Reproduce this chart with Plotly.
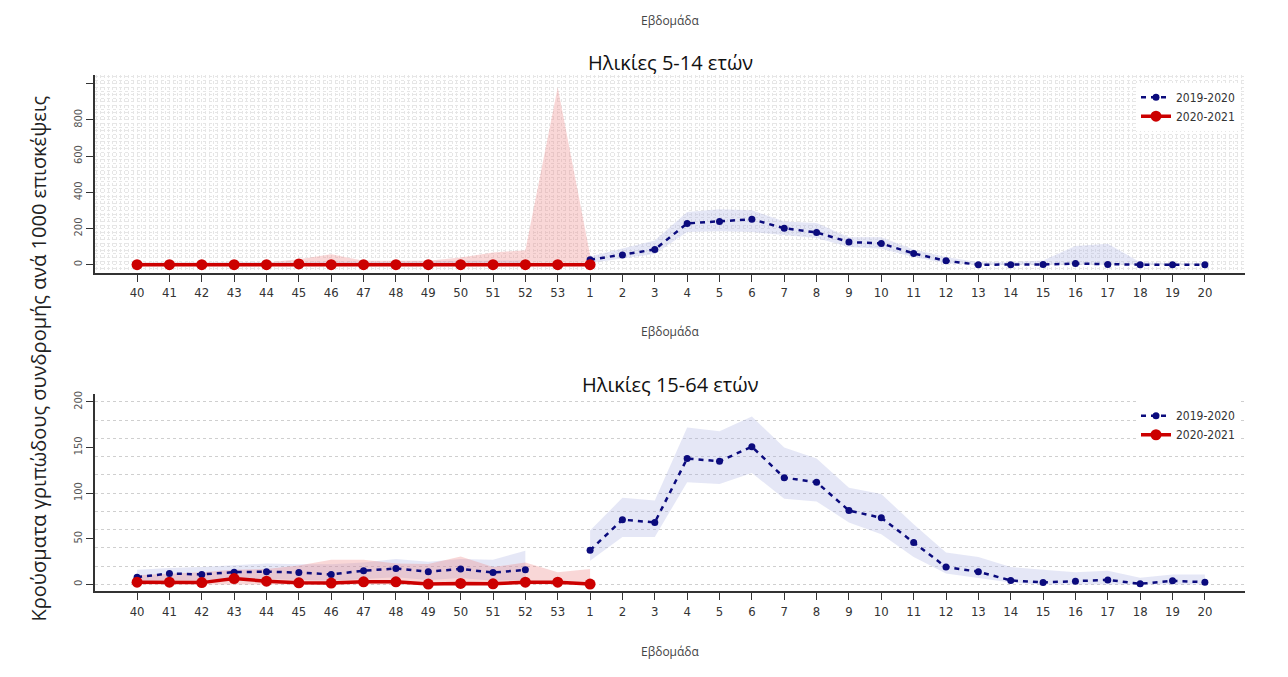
import plotly.graph_objects as go

# ---------------- data ----------------
weeks = ["40", "41", "42", "43", "44", "45", "46", "47", "48", "49", "50", "51", "52", "53",
         "1", "2", "3", "4", "5", "6", "7", "8", "9", "10", "11", "12", "13", "14", "15", "16",
         "17", "18", "19", "20"]

# Ages 5-14
a_2019 = [2, 2, 4, 4, 2, 3, 3, 2, 3, 4, 4, 4, 4, None,
          28, 55, 85, 229, 240, 252, 202, 179, 126, 118, 63, 22, 1, 1, 2, 7, 2, 1, 1, 1]
a_2019_hi = [12, 12, 14, 14, 13, 15, 18, 15, 16, 20, 22, 22, 24, None,
             46, 89, 135, 292, 307, 301, 240, 231, 153, 153, 85, 43, 15, 15, 24, 104, 116, 15, 9, 9]
a_2019_lo = [0, 0, 0, 0, 0, 0, 0, 0, 0, 0, 0, 0, 0, None,
             10, 35, 60, 181, 185, 181, 163, 148, 98, 89, 43, 9, 0, 0, 0, 0, 0, 0, 0, 0]
a_2020 = [1, 1, 1, 1, 1, 5, 1, 1, 1, 1, 1, 1, 1, 1, 1]
a_2020_hi = [13, 13, 13, 13, 13, 31, 59, 22, 22, 22, 40, 68, 81, 981, 55]
a_2020_lo = [0, 0, 0, 0, 0, 0, 0, 0, 0, 0, 0, 0, 0, 0, 0]

# Ages 15-64
b_2019 = [8, 12, 11, 13.5, 14, 13, 11, 15, 17.5, 14, 17, 13, 16, None,
          37.5, 71, 68, 138, 135, 151, 117, 112, 81, 73, 46, 19, 14, 4.4, 2.2, 3.6, 5, 0.7, 4, 2.5]
b_2019_hi = [16, 18, 19, 21, 23, 22, 22, 24, 28, 25, 28, 27, 37, None,
             59, 95, 92, 172, 168, 184, 150, 138, 106, 99, 66, 35, 30, 19, 16, 13.5, 15, 7.3, 11, 11]
b_2019_lo = [3, 5, 4, 6, 6, 5, 4, 6, 8, 5, 7, 4, 5, None,
             26, 52, 52, 112, 110, 122, 94, 91, 68, 55, 30, 12, 7, 2, 0, 0, 0, 0, 0, 0]
b_2020 = [2.5, 2.5, 2, 6.5, 3.6, 1.8, 1.5, 2.9, 2.9, 0.4, 1.1, 0.7, 2.5, 2.5, 0.4]
b_2020_hi = [10, 11.6, 13.5, 16, 17, 20.7, 27, 27, 23, 22.5, 30.5, 19, 24, 13.5, 17]
b_2020_lo = [0, 0, 0, 0, 0, 0, 0, 0, 0, 0, 0, 0, 0, 0, 0]

series_names = ["2019-2020", "2020-2021"]
titles = ["Ηλικίες 5-14 ετών", "Ηλικίες 15-64 ετών"]
x_title = "Εβδομάδα"
y_title = "Κρούσματα γριπώδους συνδρομής ανά 1000 επισκέψεις"
top_ticks = [0, 200, 400, 600, 800, 1000]
top_ticktext = ["0", "200", "400", "600", "800", ""]
bot_ticks = [0, 50, 100, 150, 200]

# ---------------- styling ----------------
BLUE = "#0b0b7d"
RED = "#cc0000"
BLUE_BAND = "rgba(170,175,225,0.30)"
RED_BAND = "rgba(235,130,130,0.32)"
NARROW = "DejaVu Sans Condensed, Liberation Sans Narrow, sans-serif"
TICK_FONT = dict(family=NARROW, size=13, color="#333333")
pos = list(range(len(weeks)))

# page body has an 8px margin: work in reference pixel coords, shifted
OFF = 8
W = 1280.0
H = 669.0


def px(v):
    return (v - OFF) / W


def py(v):
    return 1 - (v - OFF) / H


fig = go.Figure()


def segments(vals):
    segs, cur = [], []
    for i, v in enumerate(vals):
        if v is None:
            if cur:
                segs.append(cur)
            cur = []
        else:
            cur.append(i)
    if cur:
        segs.append(cur)
    return segs


def add_band(lo, hi, color, xa, ya):
    for seg in segments(hi):
        xs = [pos[i] for i in seg] + [pos[i] for i in reversed(seg)]
        ys = [hi[i] for i in seg] + [lo[i] for i in reversed(seg)]
        fig.add_trace(go.Scatter(x=xs, y=ys, fill="toself", fillcolor=color, mode="lines",
                                 line=dict(width=0), hoverinfo="skip", showlegend=False,
                                 xaxis=xa, yaxis=ya))


panels = [
    (a_2019, a_2019_lo, a_2019_hi, a_2020, a_2020_lo, a_2020_hi, "x", "y", "legend"),
    (b_2019, b_2019_lo, b_2019_hi, b_2020, b_2020_lo, b_2020_hi, "x2", "y2", "legend2"),
]
for s19, lo19, hi19, s20, lo20, hi20, xa, ya, lg in panels:
    add_band(lo19, hi19, BLUE_BAND, xa, ya)
    add_band(lo20, hi20, RED_BAND, xa, ya)
    fig.add_trace(go.Scatter(x=pos, y=s19, mode="lines+markers", name=series_names[0],
                             line=dict(color=BLUE, width=2.5, dash="5px,5px"),
                             marker=dict(color=BLUE, size=7), connectgaps=False,
                             xaxis=xa, yaxis=ya, legend=lg))
    fig.add_trace(go.Scatter(x=pos[:len(s20)], y=s20, mode="lines+markers", name=series_names[1],
                             line=dict(color=RED, width=3.5),
                             marker=dict(color=RED, size=11),
                             xaxis=xa, yaxis=ya, legend=lg))

xr = [-1.3, 34.24]
xcommon = dict(range=xr, tickmode="array", tickvals=pos, ticktext=weeks, ticks="outside",
               ticklen=7, tickcolor="#333333", showline=True, linecolor="#333333", linewidth=1.5,
               tickfont=TICK_FONT, zeroline=False, domain=[px(95), px(1245)])
ycommon = dict(ticks="outside", ticklen=7, tickcolor="#333333", showline=True, linecolor="#333333",
               linewidth=1.5, tickangle=-90, zeroline=False,
               tickfont=dict(family=NARROW, size=11, color="#555555"))

GRID = "#e6e6e6"
fig.update_layout(
    width=int(W), height=int(H),
    margin=dict(l=0, r=0, t=0, b=0),
    paper_bgcolor="white", plot_bgcolor="white",
    xaxis=dict(anchor="y", showgrid=True, gridcolor=GRID, griddash="dot",
               minor=dict(tickmode="linear", tick0=0, dtick=0.125, showgrid=True,
                          gridcolor=GRID, griddash="dot", gridwidth=1),
               **xcommon),
    yaxis=dict(domain=[py(271), py(72)], anchor="x", range=[-44, 1050],
               tickmode="array", tickvals=top_ticks, ticktext=top_ticktext,
               showgrid=True, gridcolor=GRID, griddash="dot",
               minor=dict(tickmode="linear", tick0=0, dtick=20, showgrid=True,
                          gridcolor=GRID, griddash="dot", gridwidth=1),
               **ycommon),
    xaxis2=dict(anchor="y2", showgrid=False, **xcommon),
    yaxis2=dict(domain=[py(591), py(393)], anchor="x2", range=[-7.6, 208.4],
                tickmode="array", tickvals=bot_ticks,
                showgrid=False,
                minor=dict(tickmode="linear", tick0=0, dtick=20, showgrid=True,
                           gridcolor="#cfcfcf", griddash="dot", gridwidth=1),
                **ycommon),
    legend=dict(x=px(1240), y=py(80), xanchor="right", yanchor="top", xref="paper", yref="paper",
                bgcolor="white", font=dict(family=NARROW, size=12, color="#333333"),
                itemwidth=30, tracegroupgap=0),
    legend2=dict(x=px(1240), y=py(400), xanchor="right", yanchor="top", xref="paper", yref="paper",
                 bgcolor="white", font=dict(family=NARROW, size=12, color="#333333"),
                 itemwidth=30, tracegroupgap=0),
)

cx = px((95 + 1245) / 2)
ann_font = dict(family="Open Sans, sans-serif", size=12, color="#444444")
for yy in [18, 330, 651]:
    fig.add_annotation(text=x_title, x=cx, y=py(yy), xref="paper", yref="paper",
                       showarrow=False, font=ann_font, xanchor="center", yanchor="middle")
for t, yy in zip(titles, [60, 383]):
    fig.add_annotation(text=t, x=cx, y=py(yy), xref="paper", yref="paper", showarrow=False,
                       font=dict(family="Open Sans, sans-serif", size=20, color="#111111"),
                       xanchor="center", yanchor="middle")
fig.add_annotation(text=y_title, x=px(38), y=py(357), xref="paper", yref="paper", showarrow=False,
                   textangle=-90, font=dict(family="Open Sans, sans-serif", size=20, color="#222222"),
                   xanchor="center", yanchor="middle")

fig.write_html("out.html")
